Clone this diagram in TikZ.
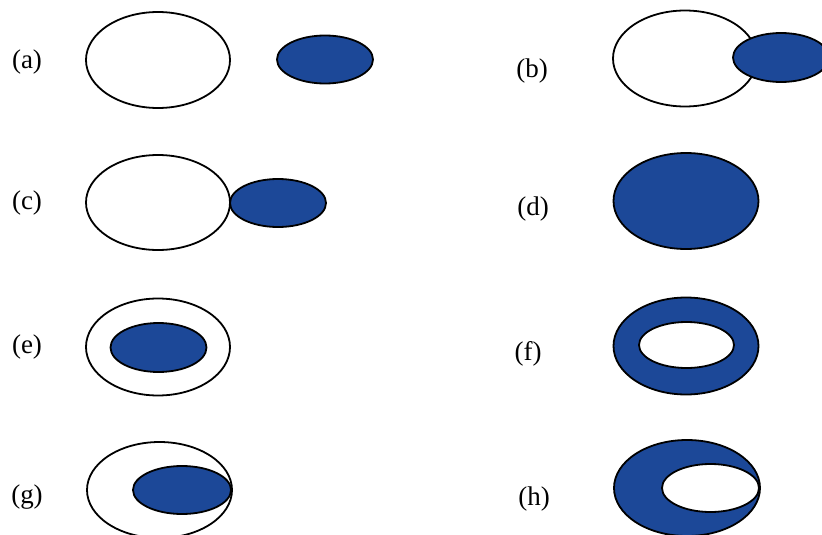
\documentclass[tikz,border=0pt]{standalone}
\usepackage{fontspec}
\setmainfont{Liberation Serif}
\definecolor{fillblue}{RGB}{28,72,152}
\begin{document}
\begin{tikzpicture}[x=1pt,y=-1pt,
  outl/.style={draw=black,line width=1.8pt},
  blob/.style={outl,fill=fillblue},
  hole/.style={outl,fill=white},
  lab/.style={inner sep=0pt,font=\fontsize{27}{31}\selectfont}]
\useasboundingbox (0,0) rectangle (822,535);
\clip (0,0) rectangle (822,535);
% (a)
\node[lab] (la) at (27,62) {(a)};
\draw[hole] (158,60) ellipse [x radius=72,y radius=48];
\draw[blob] (325,59.5) ellipse [x radius=48,y radius=24];
% (b)
\node[lab] (lb) at (532,71) {(b)};
\draw[hole] (685,58.5) ellipse [x radius=72,y radius=48];
\draw[blob] (781,57.5) ellipse [x radius=48,y radius=24.5];
% (c)
\node[lab] (lc) at (27,203) {(c)};
\draw[hole] (158,202.5) ellipse [x radius=72,y radius=47.5];
\draw[blob] (278,203) ellipse [x radius=48,y radius=24];
% (d)
\node[lab] (ld) at (533,209) {(d)};
\draw[blob] (686,201) ellipse [x radius=72.5,y radius=48];
% (e)
\node[lab] (le) at (27,347) {(e)};
\draw[hole] (158,347) ellipse [x radius=72,y radius=48.5];
\draw[blob] (158.5,347.5) ellipse [x radius=48,y radius=24.5];
% (f)
\node[lab] (lf) at (528,354) {(f)};
\draw[blob] (686,346) ellipse [x radius=72.5,y radius=48.5];
\draw[hole] (686.5,345) ellipse [x radius=47.5,y radius=23];
% (g)
\node[lab] (lg) at (27,497) {(g)};
\draw[hole] (159.5,490) ellipse [x radius=72.5,y radius=48];
\draw[blob] (182,490) ellipse [x radius=49,y radius=24];
% (h)
\node[lab] (lh) at (534,499) {(h)};
\draw[blob] (687,488) ellipse [x radius=73,y radius=48];
\draw[hole] (710.5,488) ellipse [x radius=48.5,y radius=24];
\end{tikzpicture}
\end{document}
